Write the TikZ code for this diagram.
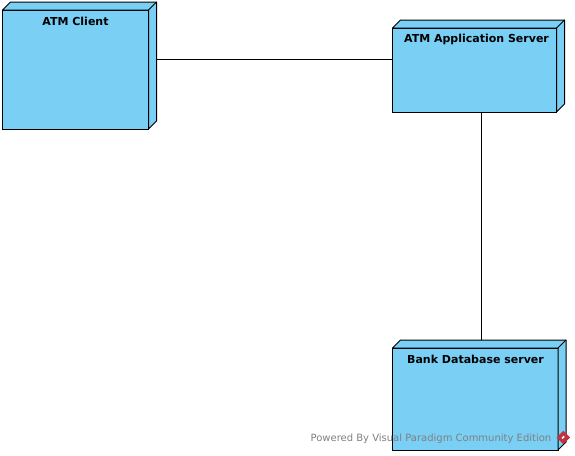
\documentclass[tikz,border=0pt]{standalone}
\usepackage{fontspec}
\setmainfont{DejaVu Sans}
\usepackage{tikz}
\usetikzlibrary{calc}
\definecolor{nodeblue}{RGB}{122,207,245}
\definecolor{markgray}{RGB}{128,128,128}
\definecolor{markred}{RGB}{190,50,65}
\tikzset{
    devicebox/.style={draw=black, fill=nodeblue, line width=1pt, anchor=north west, inner sep=0pt, outer sep=0pt},
    devicename/.style={font=\bfseries\fontsize{11}{13}\selectfont, text=black, inner sep=0pt},
    linkline/.style={draw=black, line width=1pt},
}

\begin{document}
\begin{tikzpicture}[x=1pt, y=-1pt]
        \useasboundingbox (0,0) rectangle (575,455);

        \node[devicebox, minimum width=146pt, minimum height=119pt] (client) at (2.5,10) {};
        \node[devicebox, minimum width=164pt, minimum height=84pt] (appserver) at (392.5,28) {};
        \node[devicebox, minimum width=165.5pt, minimum height=102pt] (dbserver) at (392.5,348) {};

        % the top and right faces of each box
        \foreach \n in {client, appserver, dbserver} {
            \filldraw[fill=nodeblue, draw=black, line width=1pt, line join=round]
                (\n.north west) -- ++(8,-8) -- ($(\n.north east)+(8,-8)$) -- ($(\n.south east)+(8,-8)$)
                -- (\n.south east) -- (\n.north east) -- cycle;
            \draw[line width=1pt] (\n.north east) -- ++(8,-8);
        }

        \node[devicename] (clientname) at (75.5,21.5) {ATM Client};
        \node[devicename] (appservername) at (476.5,39.5) {ATM Application Server};
        \node[devicename] (dbservername) at (475.5,359.5) {Bank Database server};

        \draw[linkline] ([shift={(8,-10.5)}]client.east) -- ([shift={(0,-11)}]appserver.west);
        \draw[linkline] ([xshift=6.5pt]appserver.south) -- ([shift={(5.75,-8)}]dbserver.north);

        \node[font=\fontsize{10}{12}\selectfont, text=markgray, anchor=east, inner sep=0pt] (watermark) at (551.5,439) {Powered By Visual Paradigm Community Edition};
        \node[fill=markred, rotate=45, minimum size=9.5pt, inner sep=0pt] (logo) at (563.3,437.5) {};
        \fill[white, rotate around={45:(logo.center)}] ($(logo.center)+(-1.5,-1)$) rectangle ++(3,1.5);
    \end{tikzpicture}
\end{document}
